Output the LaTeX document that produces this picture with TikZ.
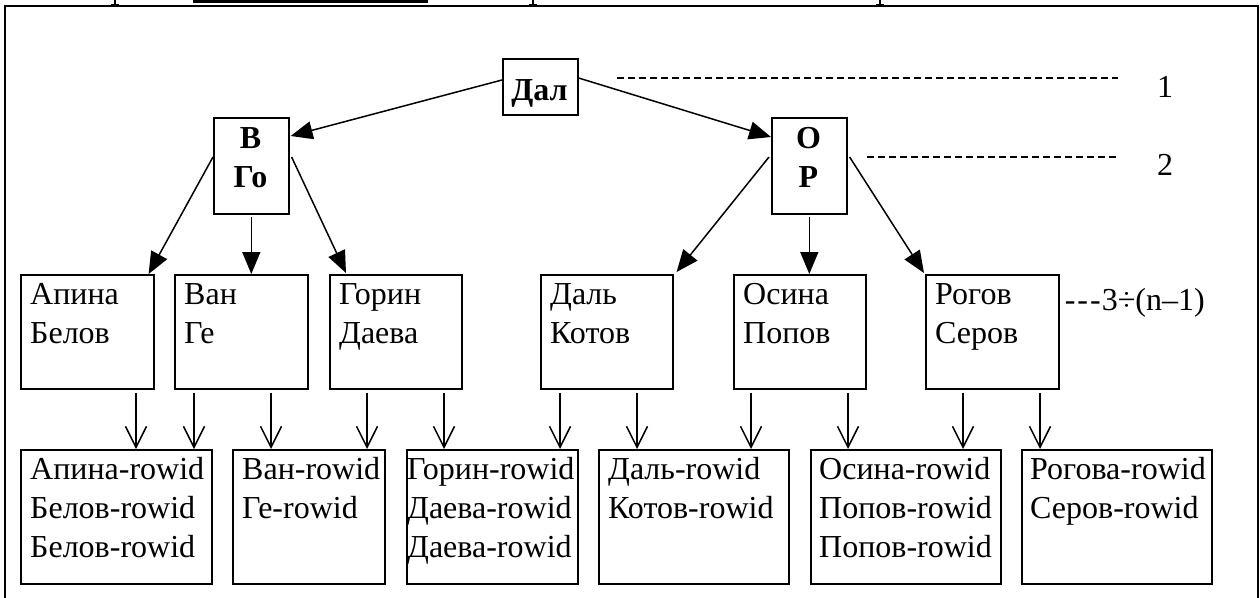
\documentclass[tikz,border=0pt]{standalone}
\usepackage{fontspec}
\setmainfont{Liberation Serif}
\usetikzlibrary{arrows.meta,calc}
\begin{document}
\begin{tikzpicture}[x=1pt,y=-1pt,
  box/.style={draw, line width=1.6pt, inner sep=0pt, anchor=north west},
  txt/.style={inner sep=0pt, anchor=base west, font=\fontsize{32}{39}\selectfont},
  btxt/.style={inner sep=0pt, anchor=base, font=\fontsize{32}{39}\selectfont\bfseries},
  fillarrow/.style={line width=1.5pt, -{Triangle[length=22pt,width=18pt]}},
  openarrow/.style={line width=1.5pt, -{Straight Barb[length=21pt,width=21pt]}},
  guide/.style={line width=1.2pt, dash pattern=on 7pt off 4pt}]
\useasboundingbox (0,0) rectangle (1260,597);
% frame and cut-off top strip
\draw[line width=2pt] (5,600) -- (5,6) -- (1258,6) -- (1258,600);
\fill (193,0) rectangle (428,2.5);
\foreach \s in {115,533,880}{
  \fill (\s-1.2,0) rectangle (\s+1.2,4.5);
  \fill (\s-4,3.5) rectangle (\s+4,4.8);
}
% level 1 and 2
\node[box, minimum width=75pt, minimum height=56pt] (dal) at (502,58) {};
\node[btxt] (dalt) at (539.5,100) {Дал};
\node[box, minimum width=75pt, minimum height=96pt] (vg) at (213,117) {};
\node[btxt] (vgt) at (250.5,148) {\parbox[t]{75pt}{\centering В\\Го}};
\node[box, minimum width=75pt, minimum height=96pt] (op) at (771,117) {};
\node[btxt] (opt) at (808.5,148) {\parbox[t]{75pt}{\centering О\\Р}};
% level 3
\node[box, minimum width=133pt, minimum height=114pt] (r1) at (20,274) {};
\node[box, minimum width=133pt, minimum height=114pt] (r2) at (174,274) {};
\node[box, minimum width=132pt, minimum height=114pt] (r3) at (329,274) {};
\node[box, minimum width=132pt, minimum height=114pt] (r4) at (540,274) {};
\node[box, minimum width=132pt, minimum height=114pt] (r5) at (733,274) {};
\node[box, minimum width=133pt, minimum height=114pt] (r6) at (925,274) {};
\node[txt] (r1t) at ($(r1.north west)+(10,30)$) {\parbox[t]{130pt}{Апина\\Белов}};
\node[txt] (r2t) at ($(r2.north west)+(10,30)$) {\parbox[t]{130pt}{Ван\\Ге}};
\node[txt] (r3t) at ($(r3.north west)+(10,30)$) {\parbox[t]{130pt}{Горин\\Даева}};
\node[txt] (r4t) at ($(r4.north west)+(10,30)$) {\parbox[t]{130pt}{Даль\\Котов}};
\node[txt] (r5t) at ($(r5.north west)+(10,30)$) {\parbox[t]{130pt}{Осина\\Попов}};
\node[txt] (r6t) at ($(r6.north west)+(10,30)$) {\parbox[t]{130pt}{Рогов\\Серов}};
% leaves
\node[box, minimum width=191pt, minimum height=134pt] (l1) at (20,449) {};
\node[box, minimum width=152pt, minimum height=134pt] (l2) at (232,449) {};
\node[box, minimum width=171pt, minimum height=134pt] (l3) at (406,449) {};
\node[box, minimum width=190pt, minimum height=134pt] (l4) at (598,449) {};
\node[box, minimum width=190pt, minimum height=134pt] (l5) at (810,449) {};
\node[box, minimum width=190pt, minimum height=134pt] (l6) at (1021,449) {};
\node[txt] (l1t) at ($(l1.north west)+(10,30)$) {\parbox[t]{200pt}{Апина-rowid\\Белов-rowid\\Белов-rowid}};
\node[txt] (l2t) at ($(l2.north west)+(10,30)$) {\parbox[t]{200pt}{Ван-rowid\\Ге-rowid}};
\node[txt] (l3t) at ($(l3.north west)+(1,30)$) {\parbox[t]{200pt}{Горин-rowid\\Даева-rowid\\Даева-rowid}};
\node[txt] (l4t) at ($(l4.north west)+(10,30)$) {\parbox[t]{200pt}{Даль-rowid\\Котов-rowid}};
\node[txt] (l5t) at ($(l5.north west)+(9,30)$) {\parbox[t]{200pt}{Осина-rowid\\Попов-rowid\\Попов-rowid}};
\node[txt] (l6t) at ($(l6.north west)+(9,30)$) {\parbox[t]{200pt}{Рогова-rowid\\Серов-rowid}};
% level guides
\coordinate (g1a) at (617,78);
\coordinate (g1b) at (1118,78);
\coordinate (g2a) at (867,157);
\coordinate (g2b) at (1118,157);
\draw[guide] (g1a) -- (g1b);
\draw[guide] (g2a) -- (g2b);
\node[txt, anchor=base] (lv1) at (1165,97) {1};
\node[txt, anchor=base] (lv2) at (1165,175) {2};
\node[txt] (lv3) at ($(r6.north east)+(5,36)$) {-\kern2pt-\kern2pt-\kern1pt3÷(n–1)};
% filled arrows
\draw[fillarrow] ($(dal.north west)+(0,22)$) -- ($(vg.north east)+(1,19)$);
\draw[fillarrow] ($(dal.north east)+(0,20)$) -- ($(op.north west)+(0,20)$);
\draw[fillarrow] ($(vg.north west)+(0,40)$) -- ($(r1.north east)+(-6,0)$);
\draw[fillarrow] ($(vg.south)+(0,2)$) -- (vg.south |- r2.north);
\draw[fillarrow] ($(vg.north east)+(2,40)$) -- ($(r3.north west)+(17,-1)$);
\draw[fillarrow] ($(op.north west)+(-2,40)$) -- ($(r4.north east)+(3,-2)$);
\draw[fillarrow] ($(op.south)+(0,2)$) -- (op.south |- r5.north);
\draw[fillarrow] ($(op.north east)+(2,40)$) -- ($(r6.north west)+(-1,-1)$);
% open arrows to leaves
\draw[openarrow] ($(r1.south west)+(116,3)$) -- ($(l1.north west)+(116,0)$);
\draw[openarrow] ($(r2.south west)+(20,3)$) -- ($(l1.north west)+(174,0)$);
\draw[openarrow] ($(r2.south west)+(97,3)$) -- ($(l2.north west)+(39,0)$);
\draw[openarrow] ($(r3.south west)+(38,3)$) -- ($(l2.north west)+(135,0)$);
\draw[openarrow] ($(r3.south west)+(115,3)$) -- ($(l3.north west)+(38,0)$);
\draw[openarrow] ($(r4.south west)+(20,3)$) -- ($(l3.north west)+(154,0)$);
\draw[openarrow] ($(r4.south west)+(97,3)$) -- ($(l4.north west)+(39,0)$);
\draw[openarrow] ($(r5.south west)+(18,3)$) -- ($(l4.north west)+(153,0)$);
\draw[openarrow] ($(r5.south west)+(115,3)$) -- ($(l5.north west)+(38,0)$);
\draw[openarrow] ($(r6.south west)+(38,3)$) -- ($(l5.north west)+(153,0)$);
\draw[openarrow] ($(r6.south west)+(115,3)$) -- ($(l6.north west)+(19,0)$);
\end{tikzpicture}
\end{document}
